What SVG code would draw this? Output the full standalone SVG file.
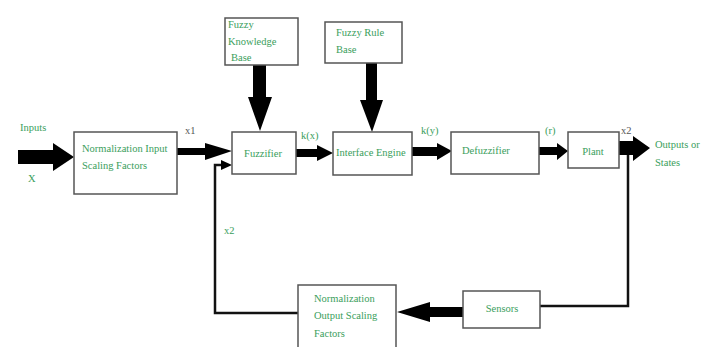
<svg xmlns="http://www.w3.org/2000/svg" width="715" height="347" viewBox="0 0 715 347">
<style>
.box{fill:#fff;stroke:#555;stroke-width:1.5}
.t{font-family:"Liberation Serif","Times New Roman",serif;font-size:10.5px;fill:#3a9e5c}
.d{font-family:"Liberation Serif","Times New Roman",serif;font-size:10.5px;fill:#555}
.c{text-anchor:middle}
.blk{fill:#000;stroke:none}
.ln{fill:none;stroke:#111;stroke-width:2.5}
</style>
<rect width="715" height="347" fill="#fff"/>
<g id="connectors">
<polygon class="blk" points="18,150 53,150 53,143 74,157 53,171 53,164 18,164"/>
<polygon class="blk" points="177,148 205,148 205,143 232,151 205,160 205,155 177,155"/>
<polyline class="ln" points="298,313 215,313 215,165 223,165"/>
<polygon class="blk" points="221,160 232,165 221,170"/>
<polygon class="blk" points="253,65 266,65 266,97 272,97 260,131 248,97 253,97"/>
<polygon class="blk" points="296,149 317,149 317,145 333,153 317,161 317,157 296,157"/>
<polygon class="blk" points="366,63 377,63 377,100 383,100 372,132 360,100 366,100"/>
<polygon class="blk" points="412,147 437,147 437,143 452,151 437,160 437,156 412,156"/>
<polygon class="blk" points="539,147 557,147 557,143 568,151 557,160 557,155 539,155"/>
<polygon class="blk" points="619,141 633,141 633,136 650,148 633,161 633,155 619,155"/>
<polyline class="ln" points="628,155 628,306 540,306"/>
<polygon class="blk" points="463,307 430,307 430,302 397,312 430,322 430,317 463,317"/>
</g>
<g id="inputs">
<text class="t" x="20" y="131">Inputs</text>
<text class="t" x="28" y="182">X</text>
</g>
<g id="norm-input">
<rect class="box" x="74" y="132" width="103" height="62"/>
<text class="t" x="82" y="152">Normalization Input</text>
<text class="t" x="82" y="169">Scaling Factors</text>
</g>
<g id="knowledge-base">
<rect class="box" x="225" y="18" width="73" height="47"/>
<text class="t" x="228" y="28">Fuzzy</text>
<text class="t" x="228" y="45">Knowledge</text>
<text class="t" x="231" y="61">Base</text>
</g>
<g id="fuzzifier">
<rect class="box" x="232" y="132" width="64" height="42"/>
<text class="t c" x="263" y="157">Fuzzifier</text>
</g>
<g id="rule-base">
<rect class="box" x="325" y="22" width="77" height="41"/>
<text class="t" x="336" y="36">Fuzzy Rule</text>
<text class="t" x="336" y="53">Base</text>
</g>
<g id="inference">
<rect class="box" x="333" y="132" width="79" height="43"/>
<text class="t" x="336" y="156">Interface Engine</text>
</g>
<g id="defuzzifier">
<rect class="box" x="451" y="132" width="88" height="42"/>
<text class="t" x="462" y="154">Defuzzifier</text>
</g>
<g id="plant">
<rect class="box" x="568" y="132" width="51" height="36"/>
<text class="t c" x="593" y="155">Plant</text>
</g>
<g id="outputs">
<text class="t" x="655" y="148">Outputs or</text>
<text class="t" x="655" y="166">States</text>
</g>
<g id="sensors">
<rect class="box" x="463" y="291" width="77" height="37"/>
<text class="t c" x="502" y="312">Sensors</text>
</g>
<g id="norm-output">
<rect class="box" x="298" y="285" width="98" height="66"/>
<text class="t" x="314" y="302">Normalization</text>
<text class="t" x="314" y="319">Output Scaling</text>
<text class="t" x="314" y="337">Factors</text>
</g>
<g id="labels">
<text class="d" x="185" y="134">x1</text>
<text class="t" x="301" y="139">k(x)</text>
<text class="t" x="421" y="134">k(y)</text>
<text class="t" x="545" y="134">(r)</text>
<text class="d" x="621" y="134">x2</text>
<text class="t" x="224" y="234">x2</text>
</g>
</svg>
